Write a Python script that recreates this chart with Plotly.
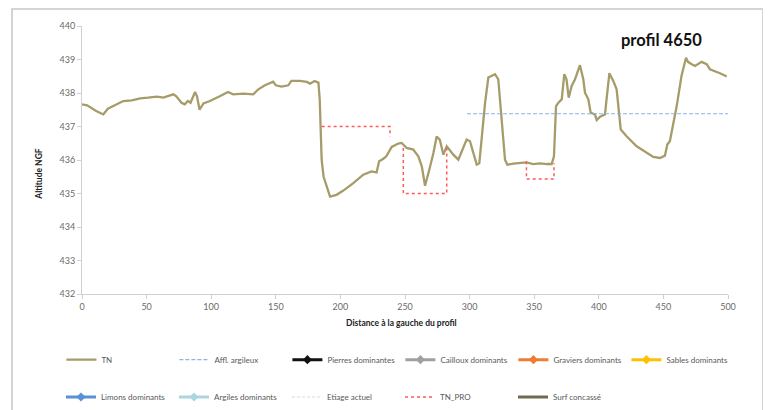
import plotly.graph_objects as go

# ---- data ----
tn_dist = [0, 4, 11, 16.5, 20, 25.5, 32, 38.5, 45, 51, 58, 63, 70.7, 73, 77, 79.5, 82, 84, 87.5, 89,
           91, 94, 99, 107, 113, 117, 125, 132.6, 136.5, 141.6, 148, 150, 154.5, 159.7, 162, 168.7,
           174, 176.5, 180, 183, 184, 185.5, 187, 192, 197, 202, 210, 217.7, 224, 228, 230, 233,
           235.5, 239.7, 244.8, 247.4, 251.3, 256.4, 260.3, 263, 265.5, 268.8, 272, 274.5, 277,
           279.7, 282.3, 287.4, 291.3, 297.7, 300.3, 305.5, 307.5, 312, 314.5, 319.7, 322.2, 327.4,
           329.2, 333.8, 339, 344, 349.3, 354.5, 359.7, 363.5, 365.3, 366.9, 368.7, 371.3, 373.3,
           375, 376.7, 379, 381.6, 385.4, 388, 389.3, 391.9, 393.7, 397, 398.4, 401, 404.8, 406,
           408.2, 411.2, 413.8, 417, 421.5, 429.3, 437, 442.2, 447.4, 451.2, 453, 455, 460.3, 464,
           467.5, 469, 471.9, 474.5, 479.6, 483.5, 486, 490, 493.8, 499]
tn_alt = [437.66, 437.63, 437.46, 437.36, 437.53, 437.63, 437.76, 437.78, 437.84, 437.86, 437.89,
          437.86, 437.96, 437.90, 437.71, 437.66, 437.76, 437.71, 438.03, 437.90, 437.50, 437.69,
          437.76, 437.91, 438.03, 437.96, 437.98, 437.96, 438.11, 438.23, 438.34, 438.23, 438.19,
          438.23, 438.36, 438.36, 438.33, 438.28, 438.36, 438.31, 437.80, 436.00, 435.50, 434.91,
          434.96, 435.08, 435.31, 435.56, 435.66, 435.63, 435.96, 436.03, 436.11, 436.39, 436.49,
          436.51, 436.36, 436.31, 436.11, 435.81, 435.23, 435.71, 436.21, 436.70, 436.60, 436.16,
          436.41, 436.16, 436.01, 436.61, 436.56, 435.86, 435.90, 437.71, 438.46, 438.56, 438.41,
          436.01, 435.86, 435.89, 435.90, 435.93, 435.88, 435.90, 435.88, 435.88, 436.11, 437.61,
          437.71, 437.81, 438.56, 438.41, 437.86, 438.21, 438.41, 438.83, 438.41, 438.01, 437.81,
          437.41, 437.36, 437.19, 437.29, 437.36, 437.81, 438.59, 438.36, 438.11, 436.91, 436.71,
          436.41, 436.21, 436.09, 436.06, 436.13, 436.46, 436.56, 437.61, 438.51, 439.05, 438.93,
          438.86, 438.81, 438.93, 438.86, 438.71, 438.66, 438.59, 438.49]

tnpro_dist = [185.5, 238.4, 238.4, None, 248.7, 248.7, 282.3, 282.3, None, 344.0, 344.0, 365.3, 365.3]
tnpro_alt = [437.0, 437.0, 436.7, None, 436.36, 435.0, 435.0, 436.36, None, 435.96, 435.43, 435.43, 435.9]

affl_dist = [298, 500]
affl_alt = [437.38, 437.38]

x_ticks = [0, 50, 100, 150, 200, 250, 300, 350, 400, 450, 500]
y_ticks = [432, 433, 434, 435, 436, 437, 438, 439, 440]

FONT = "Lato"
fig = go.Figure()

# row 1 legend
fig.add_trace(go.Scatter(x=tn_dist, y=tn_alt, mode="lines", name="TN",
                         line=dict(color="#a59c6a", width=2.3), legend="legend"))
fig.add_trace(go.Scatter(x=affl_dist, y=affl_alt, mode="lines", name="Affl. argileux",
                         line=dict(color="#8db4e2", width=1.2, dash="4px,2px"), legend="legend"))
empty = [None]
row1 = [("Pierres dominantes", "#111111"), ("Cailloux dominants", "#a0a0a0"),
        ("Graviers dominants", "#ed7d31"), ("Sables dominants", "#ffc000")]
for nm, c in row1:
    fig.add_trace(go.Scatter(x=empty, y=empty, mode="lines+markers", name=nm,
                             line=dict(color=c, width=3), marker=dict(symbol="diamond", size=7, color=c),
                             legend="legend"))
# row 2 legend
row2 = [("Limons dominants", "#5b8fd6"), ("Argiles dominants", "#a9d6e0")]
for nm, c in row2:
    fig.add_trace(go.Scatter(x=empty, y=empty, mode="lines+markers", name=nm,
                             line=dict(color=c, width=3), marker=dict(symbol="diamond", size=7, color=c),
                             legend="legend2"))
fig.add_trace(go.Scatter(x=empty, y=empty, mode="lines", name="Etiage actuel",
                         line=dict(color="#d9d9d9", width=1, dash="3px,2px"), legend="legend2"))
fig.add_trace(go.Scatter(x=tnpro_dist, y=tnpro_alt, mode="lines", name="TN_PRO",
                         line=dict(color="#ff5a5a", width=1.5, dash="3px,3px"), legend="legend2"))
fig.add_trace(go.Scatter(x=empty, y=empty, mode="lines", name="Surf concassé",
                         line=dict(color="#6f6b50", width=3), legend="legend2"))

axis_common = dict(showgrid=False, zeroline=False, showline=True, linecolor="#d0d0d0", linewidth=1,
                   ticks="outside", ticklen=4, tickcolor="#d0d0d0", automargin=False,
                   tickfont=dict(family=FONT, size=9, color="#6a6a6a"))
fig.update_xaxes(range=[0, 500], tickvals=x_ticks, ticktext=[str(v) for v in x_ticks], **axis_common)
fig.update_yaxes(range=[432, 440], tickvals=y_ticks, ticktext=[str(v) for v in y_ticks], **axis_common)

leg_common = dict(orientation="h", font=dict(family=FONT, size=8, color="#595959"),
                  bgcolor="rgba(0,0,0,0)", entrywidth=68, entrywidthmode="pixels",
                  itemwidth=30, xanchor="left", yanchor="middle", tracegroupgap=0)
W, H = 763, 402
fig.update_layout(
    width=W, height=H, autosize=False,
    margin=dict(l=74, r=43, t=18, b=116),
    plot_bgcolor="white", paper_bgcolor="white",
    showlegend=True,
    legend=dict(x=-0.0319, y=-0.245, **leg_common),
    legend2=dict(x=53 / W, y=1 - 389 / H, xref="container", yref="container", **leg_common),
    annotations=[
        dict(text="<b>profil 4650</b>", xref="paper", yref="paper", x=0.897, y=0.948,
             xanchor="center", yanchor="middle", showarrow=False,
             font=dict(family=FONT, size=16.5, color="#111111")),
        dict(text="<b>Distance à la gauche du profil</b>", xref="paper", yref="paper", x=0.495,
             y=-0.108, xanchor="center", yanchor="middle", showarrow=False,
             font=dict(family=FONT, size=8.5, color="#222222")),
        dict(text="<b>Altitude NGF</b>", xref="paper", yref="paper", x=-0.066, y=0.45,
             xanchor="center", yanchor="middle", showarrow=False, textangle=-90,
             font=dict(family=FONT, size=8.5, color="#222222")),
    ],
    shapes=[dict(type="rect", xref="paper", yref="paper",
                 x0=(12 - 82) / 646, x1=(763 - 82) / 646,
                 y0=(294 - 420) / 268, y1=(294 - 9) / 268,
                 line=dict(color="#d4d4d4", width=2), fillcolor="rgba(0,0,0,0)", layer="below")],
)

fig.write_html("out.html")
